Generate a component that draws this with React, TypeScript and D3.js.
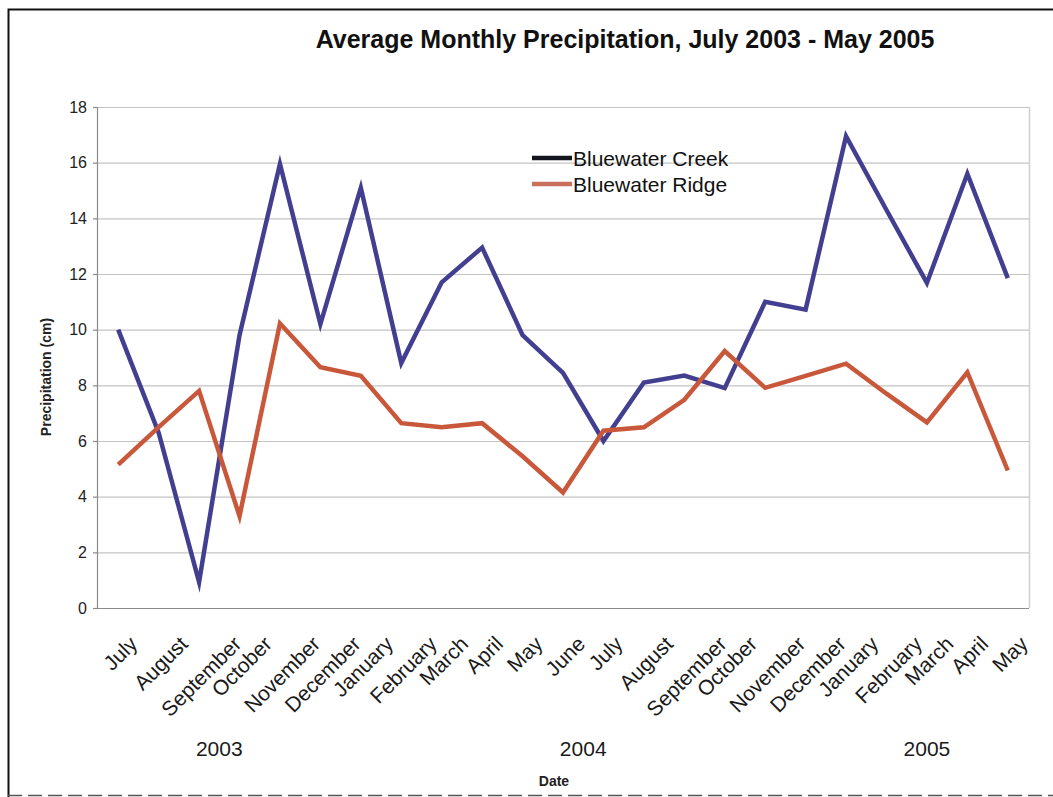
import React, { useEffect, useRef } from "react";
import * as d3 from "d3";

const months = [
  "July", "August", "September", "October", "November", "December",
  "January", "February", "March", "April", "May", "June",
  "July", "August", "September", "October", "November", "December",
  "January", "February", "March", "April", "May",
];

const creek = [
  10.0, 6.3, 0.93, 9.8, 15.95, 10.2, 15.1, 8.8, 11.7, 12.95, 9.8, 8.45,
  6.0, 8.1, 8.35, 7.9, 11.0, 10.72, 16.95, 14.3, 11.68, 15.6, 11.85,
];

const ridge = [
  5.15, 6.5, 7.8, 3.3, 10.22, 8.65, 8.34, 6.64, 6.49, 6.64, 5.45, 4.15,
  6.37, 6.49, 7.48, 9.23, 7.91, 8.34, 8.78, 7.7, 6.67, 8.47, 4.94,
];

const yearGroups = [
  { label: "2003", start: 0, end: 5 },
  { label: "2004", start: 6, end: 17 },
  { label: "2005", start: 18, end: 22 },
];

const yTicks = [0, 2, 4, 6, 8, 10, 12, 14, 16, 18];

const seriesList = [
  { name: "Bluewater Creek", values: creek, color: "#433f90", legendColor: "#15151f" },
  { name: "Bluewater Ridge", values: ridge, color: "#c9583b", legendColor: "#c8705c" },
];

const W = 1053;
const H = 797;
const plot = { left: 98, right: 1028, top: 107, bottom: 608 };
const FONT = "'Liberation Sans', Arial, Helvetica, sans-serif";

export default function App() {
  const ref = useRef<SVGSVGElement | null>(null);

  useEffect(() => {
    const svg = d3.select(ref.current);
    svg.selectAll("*").remove();

    const idx = months.map((_, i) => i);
    const x = d3.scalePoint<number>().domain(idx).range([plot.left, plot.right]).padding(0.5);
    const y = d3.scaleLinear().domain([0, 18]).range([plot.bottom, plot.top]);

    // outer frame
    svg.append("rect").attr("x", 0).attr("y", 0).attr("width", W).attr("height", H).attr("fill", "#fff");
    svg.append("path")
      .attr("d", `M8.5,${H} L8.5,9.5 L${W},9.5`)
      .attr("fill", "none").attr("stroke", "#111").attr("stroke-width", 2);
    svg.append("line")
      .attr("x1", 8).attr("x2", W).attr("y1", 795.5).attr("y2", 795.5)
      .attr("stroke", "#555").attr("stroke-width", 1.5).attr("stroke-dasharray", "14,6");

    // title
    svg.append("text")
      .attr("x", 625).attr("y", 48)
      .attr("text-anchor", "middle")
      .attr("font-family", FONT).attr("font-weight", "bold").attr("font-size", 25)
      .attr("fill", "#111")
      .text("Average Monthly Precipitation, July 2003 - May 2005");

    // gridlines
    const g = svg.append("g");
    g.selectAll("line.grid")
      .data(yTicks.filter((t) => t > 0))
      .join("line")
      .attr("class", "grid")
      .attr("x1", plot.left).attr("x2", plot.right + 1)
      .attr("y1", (d) => y(d) + 0.5).attr("y2", (d) => y(d) + 0.5)
      .attr("stroke", "#c4c4c4").attr("stroke-width", 1.2);

    // plot right border
    g.append("line")
      .attr("x1", plot.right + 1.5).attr("x2", plot.right + 1.5)
      .attr("y1", plot.top).attr("y2", plot.bottom)
      .attr("stroke", "#cfcfcf").attr("stroke-width", 1.5);

    // axes lines
    g.append("line")
      .attr("x1", plot.left - 0.5).attr("x2", plot.left - 0.5)
      .attr("y1", plot.top).attr("y2", plot.bottom + 0.5)
      .attr("stroke", "#8a8a8a").attr("stroke-width", 1.2);
    g.append("line")
      .attr("x1", plot.left - 5).attr("x2", plot.right + 1)
      .attr("y1", plot.bottom + 0.5).attr("y2", plot.bottom + 0.5)
      .attr("stroke", "#8a8a8a").attr("stroke-width", 1.2);

    // y ticks and labels
    g.selectAll("line.ytick")
      .data(yTicks)
      .join("line")
      .attr("class", "ytick")
      .attr("x1", plot.left - 5).attr("x2", plot.left)
      .attr("y1", (d) => y(d) + 0.5).attr("y2", (d) => y(d) + 0.5)
      .attr("stroke", "#8a8a8a").attr("stroke-width", 1.2);
    g.selectAll("text.ylab")
      .data(yTicks)
      .join("text")
      .attr("class", "ylab")
      .attr("x", 87).attr("y", (d) => y(d))
      .attr("dy", "0.35em")
      .attr("text-anchor", "end")
      .attr("font-family", FONT).attr("font-size", 16)
      .attr("fill", "#222")
      .text((d) => String(d));

    // y axis title
    svg.append("text")
      .attr("transform", `translate(51,377) rotate(-90)`)
      .attr("text-anchor", "middle")
      .attr("font-family", FONT).attr("font-weight", "bold").attr("font-size", 14)
      .attr("fill", "#222")
      .text("Precipitation (cm)");

    // month labels: rotated -45°, rotated boxes top-aligned under each category
    const monthFont = 21;
    const labelTop = 636;
    const mg = svg.append("g");
    months.forEach((m, i) => {
      const t = mg.append("text")
        .attr("text-anchor", "middle")
        .attr("dominant-baseline", "central")
        .attr("font-family", FONT).attr("font-size", monthFont)
        .attr("fill", "#1a1a1a")
        .text(m);
      const len = (t.node() as SVGTextElement).getComputedTextLength();
      const cx = (x(i) as number) + 2;
      const cy = labelTop + 4 + len * Math.SQRT1_2 / 2;
      t.attr("transform", `translate(${cx},${cy}) rotate(-45)`);
    });

    // year labels centred on their month groups
    svg.selectAll("text.year")
      .data(yearGroups)
      .join("text")
      .attr("class", "year")
      .attr("x", (d) => ((x(d.start) as number) + (x(d.end) as number)) / 2)
      .attr("y", 756)
      .attr("text-anchor", "middle")
      .attr("font-family", FONT).attr("font-size", 21)
      .attr("fill", "#1a1a1a")
      .text((d) => d.label);

    // x axis title
    svg.append("text")
      .attr("x", 554).attr("y", 786)
      .attr("text-anchor", "middle")
      .attr("font-family", FONT).attr("font-weight", "bold").attr("font-size", 14)
      .attr("fill", "#222")
      .text("Date");

    // series lines
    const line = d3.line<number>()
      .x((_, i) => x(i) as number)
      .y((d) => y(d));
    seriesList.forEach((s) => {
      svg.append("path")
        .datum(s.values)
        .attr("d", line)
        .attr("fill", "none")
        .attr("stroke", s.color)
        .attr("stroke-width", 4.5)
        .attr("stroke-linejoin", "miter")
        .attr("stroke-miterlimit", 6);
    });

    // legend
    const lg = svg.append("g").attr("transform", "translate(532,158)");
    seriesList.forEach((s, i) => {
      const row = lg.append("g").attr("transform", `translate(0,${i * 26})`);
      row.append("line")
        .attr("x1", 0).attr("x2", 40).attr("y1", 0).attr("y2", 0)
        .attr("stroke", s.legendColor).attr("stroke-width", 4.5);
      row.append("text")
        .attr("x", 41).attr("y", 0).attr("dy", "0.36em")
        .attr("font-family", FONT).attr("font-size", 21)
        .attr("fill", "#111")
        .text(s.name);
    });
  }, []);

  return (
    <svg
      ref={ref}
      width={W}
      height={H}
      style={{ position: "absolute", left: 0, top: 0, display: "block" }}
    />
  );
}
